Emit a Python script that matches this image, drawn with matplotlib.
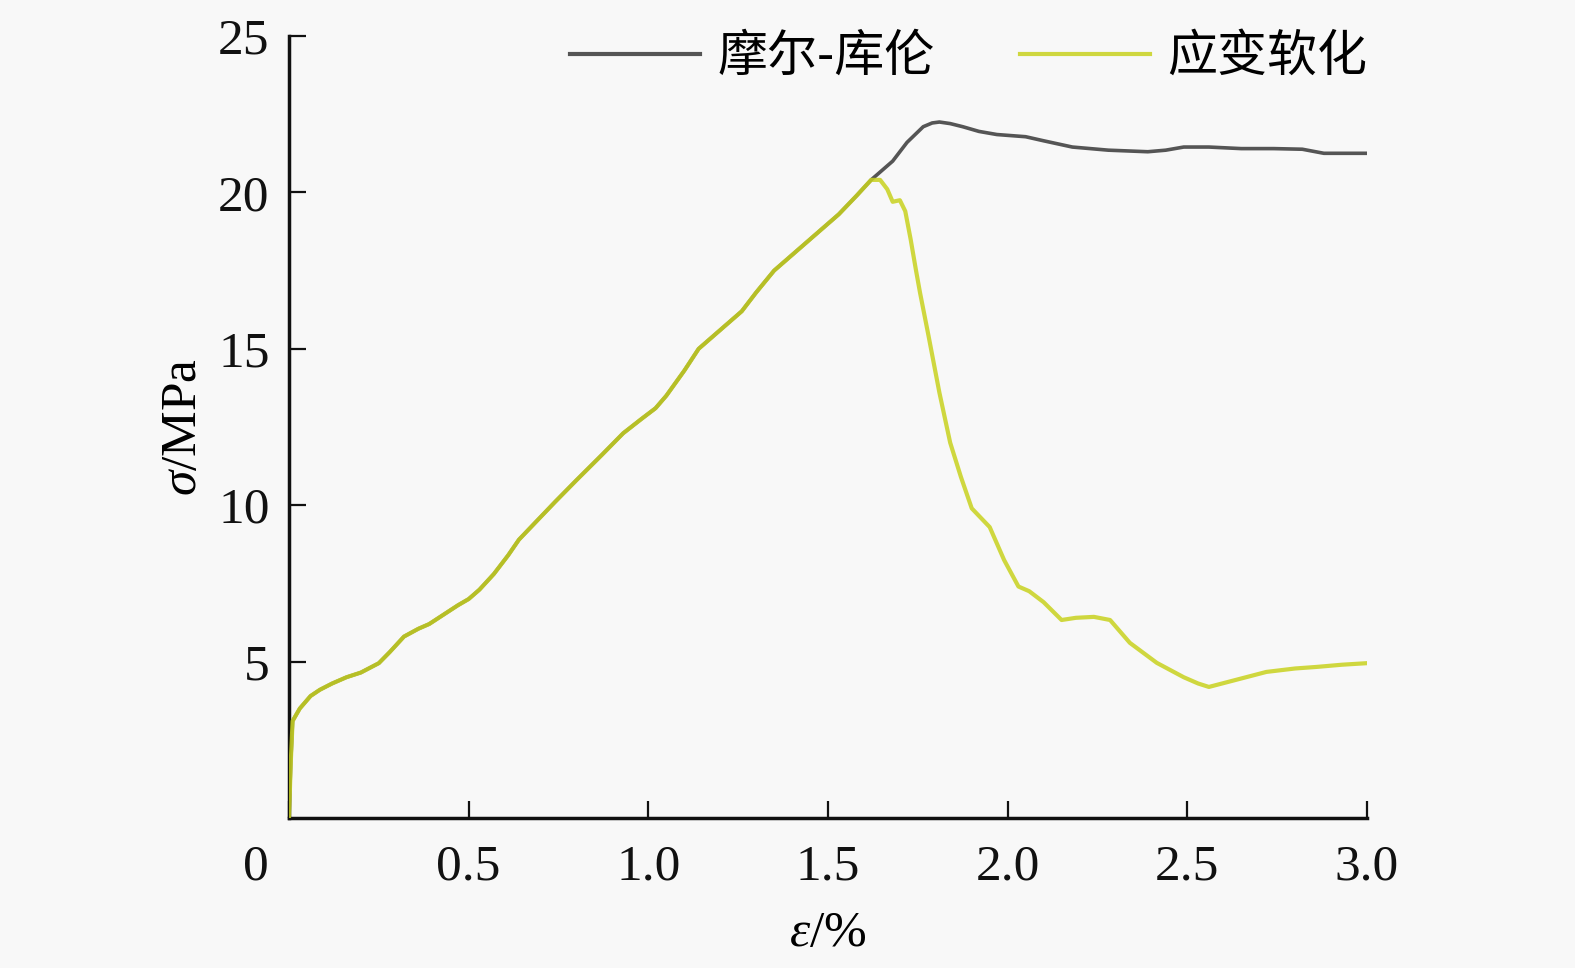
import matplotlib
matplotlib.use("Agg")
import matplotlib.pyplot as plt
from matplotlib.transforms import ScaledTranslation

# ---- data ----
eps_common = [0.0, 0.005, 0.01, 0.03, 0.06, 0.086, 0.12, 0.16, 0.2, 0.25, 0.28, 0.32,
              0.36, 0.39, 0.43, 0.47, 0.5, 0.53, 0.57, 0.61, 0.64, 0.69, 0.74, 0.8,
              0.87, 0.93, 0.98, 1.02, 1.05, 1.1, 1.14, 1.2, 1.26, 1.3, 1.35, 1.4,
              1.45, 1.49, 1.53, 1.58, 1.62]
sig_common = [0.0, 1.8, 3.1, 3.5, 3.9, 4.1, 4.3, 4.5, 4.65, 4.95, 5.3, 5.8,
              6.05, 6.2, 6.5, 6.8, 7.0, 7.3, 7.8, 8.4, 8.9, 9.5, 10.1, 10.8,
              11.6, 12.3, 12.75, 13.1, 13.5, 14.3, 15.0, 15.6, 16.2, 16.8, 17.5, 18.0,
              18.5, 18.9, 19.3, 19.9, 20.4]

eps_mc_post = [1.68, 1.72, 1.765, 1.79, 1.81, 1.84, 1.875, 1.92, 1.97, 2.05, 2.1,
               2.18, 2.28, 2.39, 2.44, 2.49, 2.56, 2.65, 2.74, 2.82, 2.88, 2.97, 3.0]
sig_mc_post = [21.0, 21.6, 22.1, 22.22, 22.25, 22.2, 22.1, 21.95, 21.85, 21.78, 21.65,
               21.45, 21.35, 21.3, 21.35, 21.45, 21.45, 21.4, 21.4, 21.38, 21.25, 21.25, 21.25]

eps_soft_post = [1.645, 1.665, 1.68, 1.70, 1.715, 1.73, 1.745, 1.756, 1.78, 1.81, 1.84,
                 1.87, 1.90, 1.95, 1.99, 2.03, 2.06, 2.10, 2.15, 2.19, 2.24, 2.285,
                 2.34, 2.415, 2.49, 2.53, 2.56, 2.63, 2.72, 2.8, 2.86, 2.93, 3.0]
sig_soft_post = [20.4, 20.1, 19.7, 19.75, 19.4, 18.5, 17.5, 16.8, 15.4, 13.6, 12.0,
                 10.9, 9.9, 9.3, 8.25, 7.4, 7.25, 6.9, 6.33, 6.4, 6.43, 6.33,
                 5.6, 4.96, 4.5, 4.3, 4.19, 4.4, 4.67, 4.78, 4.83, 4.9, 4.95]

x_ticks = [0, 0.5, 1.0, 1.5, 2.0, 2.5, 3.0]
x_ticklabels = ["0", "0.5", "1.0", "1.5", "2.0", "2.5", "3.0"]
y_ticks = [5, 10, 15, 20, 25]
y_ticklabels = ["5", "10", "15", "20", "25"]
series_names = ["摩尔-库伦", "应变软化"]

eps_mc = eps_common + eps_mc_post
sig_mc = sig_common + sig_mc_post
eps_soft = eps_common + eps_soft_post
sig_soft = sig_common + sig_soft_post

# ---- style ----
plt.rcParams["font.family"] = ["Liberation Serif", "Noto Sans CJK SC"]
plt.rcParams["mathtext.fontset"] = "custom"
plt.rcParams["mathtext.it"] = "Liberation Serif:italic"
plt.rcParams["mathtext.rm"] = "Liberation Serif"

bg = "#f8f8f8"
fig = plt.figure(figsize=(15.75, 9.68), dpi=100, facecolor=bg)
ax = fig.add_axes([289/1575, 1 - 818/968, (1367-289)/1575, (818-36)/968], facecolor=bg)

ax.plot(eps_mc, sig_mc, color="#555555", lw=2.6, label=series_names[0], zorder=2)
ax.plot(eps_soft, sig_soft, color="#c8d21e", lw=3.0, alpha=0.85, label=series_names[1], zorder=3)

ax.set_xlim(0, 3.0)
ax.set_ylim(0, 25)
for s in ["top", "right"]:
    ax.spines[s].set_visible(False)
for s in ["left", "bottom"]:
    ax.spines[s].set_linewidth(2.5)
    ax.spines[s].set_color("#111111")

ax.set_xticks(x_ticks)
ax.set_xticklabels(x_ticklabels)
ax.set_yticks(y_ticks)
ax.set_yticklabels(y_ticklabels)
ax.tick_params(axis="both", direction="in", length=12, width=1.6, labelsize=37, colors="#111111")
ax.tick_params(axis="x", pad=19)
ax.tick_params(axis="y", pad=14)

# origin label shifted left like the reference
lbl0 = ax.get_xticklabels()[0]
lbl0.set_transform(lbl0.get_transform() + ScaledTranslation(-33/100, 0, fig.dpi_scale_trans))

ax.set_xlabel(r"$\varepsilon$/%", fontsize=37, labelpad=14)
ax.set_ylabel(r"$\sigma$/MPa", fontsize=37, labelpad=8)

leg = ax.legend(loc="upper right", bbox_to_anchor=(1367/1575, 1 - 31/968),
                bbox_transform=fig.transFigure, ncol=2, frameon=False,
                prop={"family": ["Noto Sans CJK SC"], "size": 36, "weight": "light"},
                handlelength=2.6, handletextpad=0.35, columnspacing=1.7,
                borderaxespad=0, borderpad=0)
for h in leg.get_lines():
    h.set_linewidth(3)

fig.savefig("out.png", dpi=100, facecolor=bg)
